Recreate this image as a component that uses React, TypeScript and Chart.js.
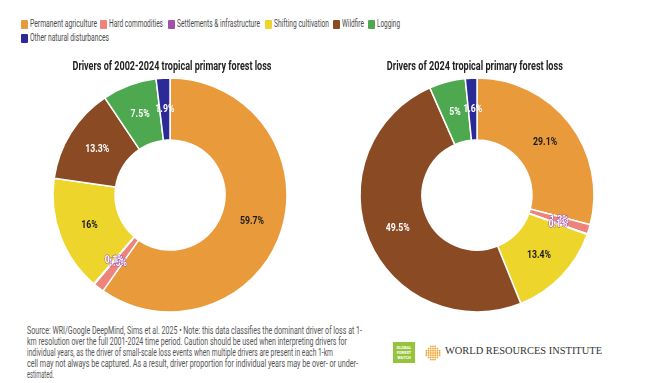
import React, { useEffect, useRef } from "react";
import { Chart, registerables } from "chart.js";

Chart.register(...registerables);

// ---------- data ----------
const categories = [
  "Permanent agriculture",
  "Hard commodities",
  "Settlements & infrastructure",
  "Shifting cultivation",
  "Wildfire",
  "Logging",
  "Other natural disturbances",
];
const sliceColors = ["#E99A3B", "#EE837B", "#A050A6", "#EDD52C", "#8A4A24", "#4EA84F", "#2C2A96"];
const labelColors = ["#1a1a1a", "#ffffff", "#ffffff", "#1a1a1a", "#ffffff", "#ffffff", "#ffffff"];
const values2002to2024 = [59.7, 1.5, 0.1, 16, 13.3, 7.5, 1.9];
const values2024 = [29.1, 1.3, 0.1, 13.4, 49.5, 5, 1.6];
const chartTitles = [
  "Drivers of 2002-2024 tropical primary forest loss",
  "Drivers of 2024 tropical primary forest loss",
];
const footerLines = [
  "Source: WRI/Google DeepMind, Sims et al. 2025 \u2022 Note: this data classifies the dominant driver of loss at 1-",
  "km resolution over the full 2001-2024 time period. Caution should be used when interpreting drivers for",
  "individual years, as the driver of small-scale loss events when multiple drivers are present in each 1-km",
  "cell may not always be captured. As a result, driver proportion for individual years may be over- or under-",
  "estimated.",
];

// ---------- layout ----------
const legendLayout = [
  { x: 21, y: 24, w: 67 },
  { x: 100, y: 24, w: 54 },
  { x: 168, y: 24, w: 83 },
  { x: 265, y: 24, w: 55 },
  { x: 333, y: 24, w: 22 },
  { x: 368, y: 24, w: 23 },
  { x: 21, y: 38, w: 79 },
];
const footerLayout = [
  { y: 332, w: 335 },
  { y: 343, w: 320 },
  { y: 354, w: 306 },
  { y: 365, w: 331 },
  { y: 376, w: 27 },
];

let measureCtx: CanvasRenderingContext2D | null = null;
function measure(text: string, font: string) {
  if (!measureCtx) measureCtx = document.createElement("canvas").getContext("2d");
  measureCtx!.font = font;
  return measureCtx!.measureText(text).width;
}

function FitText(props: {
  text: string;
  font: string;
  x: number;
  y: number;
  width: number;
  color: string;
  center?: boolean;
}) {
  const { text, font, x, y, width, color, center } = props;
  const w = measure(text, font);
  const s = width / w;
  return (
    <div
      style={{
        position: "absolute",
        left: center ? x - w / 2 : x,
        top: y - 7,
        height: 14,
        lineHeight: "14px",
        whiteSpace: "nowrap",
        font,
        color,
        transform: `scaleX(${s})`,
        transformOrigin: center ? "center" : "left",
      }}
    >
      {text}
    </div>
  );
}

const sliceLabels = {
  id: "sliceLabels",
  afterDatasetsDraw(chart: any) {
    const ctx = chart.ctx;
    const meta = chart.getDatasetMeta(0);
    const data = chart.data.datasets[0].data as number[];
    meta.data.forEach((arc: any, i: number) => {
      const { x, y } = arc.getCenterPoint();
      ctx.save();
      ctx.translate(x, y);
      ctx.scale(0.76, 1);
      ctx.font = "bold 11.5px Roboto";
      ctx.textAlign = "center";
      ctx.textBaseline = "middle";
      const t = `${data[i]}%`;
      if (i === 1 || i === 2) {
        ctx.strokeStyle = sliceColors[2];
        ctx.lineWidth = 1.2;
        ctx.strokeText(t, 0, 0);
      }
      ctx.fillStyle = labelColors[i];
      ctx.fillText(t, 0, 0);
      ctx.restore();
    });
  },
};

function Donut(props: { values: number[]; left: number; top: number }) {
  const ref = useRef<HTMLCanvasElement>(null);
  useEffect(() => {
    const chart = new Chart(ref.current!, {
      type: "doughnut",
      data: {
        labels: categories,
        datasets: [
          {
            data: props.values,
            backgroundColor: sliceColors,
            borderColor: "#ffffff",
            borderWidth: 1.5,
            hoverOffset: 0,
          },
        ],
      },
      options: {
        animation: false,
        responsive: false,
        radius: 117,
        cutout: "47%",
        layout: { padding: 0 },
        events: [],
        plugins: {
          legend: { display: false },
          title: { display: false },
          tooltip: { enabled: false },
        },
      } as any,
      plugins: [sliceLabels as any],
    });
    return () => chart.destroy();
  }, []);
  return (
    <canvas
      ref={ref}
      width={260}
      height={260}
      style={{ position: "absolute", left: props.left, top: props.top, width: 260, height: 260 }}
    />
  );
}

function WriLogo() {
  const dots: JSX.Element[] = [];
  for (let r = -3; r <= 3; r++) {
    for (let c = -3; c <= 3; c++) {
      if (Math.abs(r) + Math.abs(c) > 4) continue;
      dots.push(<circle key={`${r}_${c}`} cx={8 + c * 2.2} cy={8 + r * 2.2} r={0.95} fill="#F2A93B" />);
    }
  }
  return (
    <svg width={16} height={16} style={{ position: "absolute", left: 425, top: 345 }}>
      {dots}
    </svg>
  );
}

export default function App() {
  return (
    <div
      style={{
        position: "fixed",
        left: 0,
        top: 0,
        width: 658,
        height: 383,
        background: "#ffffff",
        overflow: "hidden",
      }}
    >
      {categories.map((c, i) => (
        <React.Fragment key={c}>
          <div
            style={{
              position: "absolute",
              left: legendLayout[i].x,
              top: legendLayout[i].y - 4.5,
              width: 7,
              height: 9,
              borderRadius: 1,
              background: sliceColors[i],
            }}
          />
          <FitText
            text={c}
            font="11px Roboto"
            x={legendLayout[i].x + 8.5}
            y={legendLayout[i].y}
            width={legendLayout[i].w}
            color="#4a4a4a"
          />
        </React.Fragment>
      ))}

      <Donut values={values2002to2024} left={40} top={65} />
      <Donut values={values2024} left={347} top={65} />

      <FitText text={chartTitles[0]} font="bold 12px Roboto" x={172.5} y={66} width={199} color="#222" center />
      <FitText text={chartTitles[1]} font="bold 12px Roboto" x={475} y={66} width={176} color="#222" center />

      {footerLines.map((l, i) => (
        <FitText
          key={i}
          text={l}
          font="10px Roboto"
          x={27}
          y={footerLayout[i].y}
          width={footerLayout[i].w}
          color="#555"
        />
      ))}

      <div
        style={{
          position: "absolute",
          left: 393,
          top: 342,
          width: 22,
          height: 21,
          background: "#97C23C",
          color: "#fff",
          font: "bold 4px Roboto",
          lineHeight: "5px",
          textAlign: "center",
          paddingTop: 3,
          boxSizing: "border-box",
        }}
      >
        GLOBAL
        <br />
        FOREST
        <br />
        WATCH
      </div>
      <WriLogo />
      <FitText
        text="WORLD RESOURCES INSTITUTE"
        font="500 9.5px 'Liberation Serif'"
        x={445}
        y={353}
        width={157}
        color="#333"
      />
    </div>
  );
}
